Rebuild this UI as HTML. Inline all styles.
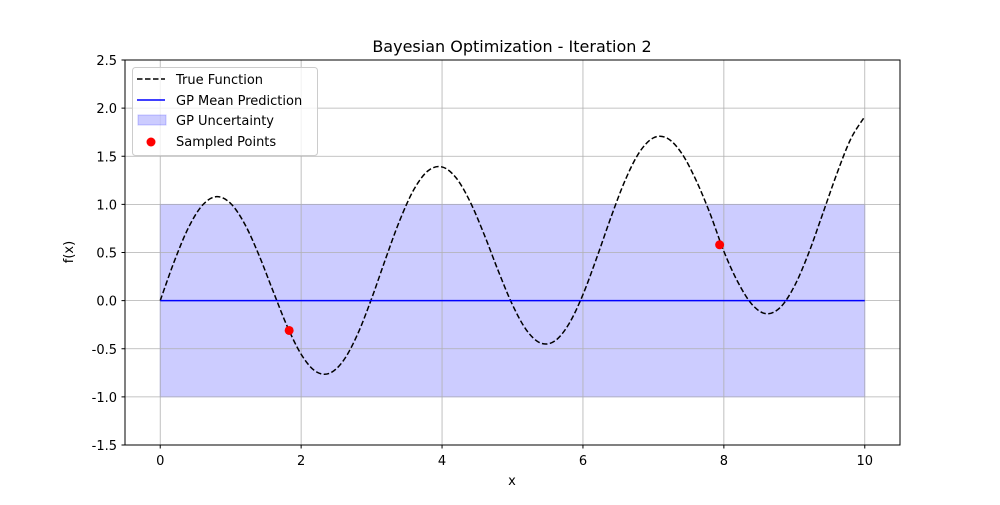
<!DOCTYPE html>
<html><head><meta charset="utf-8"><style>
body{margin:0;background:#fff;}
svg text{font-family:"DejaVu Sans","Liberation Sans",sans-serif;}
</style></head><body>
<svg id="chart" width="1000" height="500" xmlns="http://www.w3.org/2000/svg">
<rect width="1000" height="500" fill="#fff"/>
<g id="plot"></g>
<g id="grid"></g>
<g id="plot2"></g>
<rect x="125" y="60" width="775" height="385" fill="none" stroke="#000" stroke-width="1"/>
<g id="ticks"></g>
<text x="512" y="52" text-anchor="middle" font-size="16">Bayesian Optimization - Iteration 2</text>
<text x="512" y="485" text-anchor="middle" font-size="13">x</text>
<text x="73" y="252" text-anchor="middle" font-size="13" transform="rotate(-90 73 252)">f(x)</text>
<g>
<rect x="132.5" y="67.5" width="185" height="88" rx="3" fill="#fff" fill-opacity="0.8" stroke="#ccc"/>
<line x1="137" y1="79" x2="165" y2="79" stroke="#000" stroke-width="1.5" stroke-dasharray="5.5,2.5"/>
<text x="176" y="84" font-size="13">True Function</text>
<line x1="137" y1="100" x2="165" y2="100" stroke="#0000ff" stroke-width="1.5"/>
<text x="176" y="105" font-size="13">GP Mean Prediction</text>
<rect x="138" y="115" width="28" height="10" fill="#0000ff" fill-opacity="0.2" stroke="#0000ff" stroke-opacity="0.2"/>
<text x="176" y="125" font-size="13">GP Uncertainty</text>
<circle cx="151" cy="142" r="4.5" fill="red"/>
<text x="176" y="146" font-size="13">Sampled Points</text>
</g>
</svg>
<script>
const trueX=[0,0.2,0.4,0.6,0.8,1.0,1.2,1.4,1.6,1.8,2.0,2.2,2.4,2.6,2.8,3.0,3.2,3.4,3.6,3.8,4.0,4.2,4.4,4.6,4.8,5.0,5.2,5.4,5.6,5.8,6.0,6.2,6.4,6.6,6.8,7.0,7.2,7.4,7.6,7.8,8.0,8.2,8.4,8.6,8.8,9.0,9.2,9.4,9.6,9.8,10.0];
const trueY=[0,0.409,0.757,0.992,1.080,1.009,0.795,0.475,0.102,-0.263,-0.557,-0.732,-0.756,-0.623,-0.351,0.021,0.437,0.834,1.154,1.348,1.389,1.275,1.025,0.683,0.305,-0.044,-0.308,-0.441,-0.420,-0.243,0.063,0.454,0.871,1.252,1.540,1.691,1.686,1.532,1.259,0.912,0.512,0.191,-0.040,-0.136,-0.071,0.149,0.487,0.896,1.311,1.678,1.913];
const meanX=[0,10];
const meanY=[0,0];
const upperY=[1,1];
const lowerY=[-1,-1];
const sampleX=[1.83,7.94];
const sampleY=[-0.31,0.58];
const xTicks=[0,2,4,6,8,10];
const yTicks=[-1.5,-1.0,-0.5,0.0,0.5,1.0,1.5,2.0,2.5];

const X=v=>125+(v+0.5)/11*775;
const Y=v=>445-(v+1.5)/4*385;
const NS="http://www.w3.org/2000/svg";
function mk(tag,attrs,parent){const e=document.createElementNS(NS,tag);for(const k in attrs)e.setAttribute(k,attrs[k]);parent.appendChild(e);return e;}
const grid=document.getElementById('grid'),plot=document.getElementById('plot'),plot2=document.getElementById('plot2'),ticks=document.getElementById('ticks');
xTicks.forEach(t=>{
 const g=mk('line',{x1:X(t),x2:X(t),y1:60,y2:445,stroke:'#b0b0b0','stroke-width':0.8},grid);
 
 
 const tk=mk('line',{x1:X(t),x2:X(t),y1:445,y2:448.5,stroke:'#000'},ticks);
 
 
 const tx=mk('text',{x:X(t),y:465,'text-anchor':'middle','font-size':13},ticks);
 tx.textContent=String(t);
 
 
});
yTicks.forEach(t=>{
 const g=mk('line',{x1:125,x2:900,y1:Y(t),y2:Y(t),stroke:'#b0b0b0','stroke-width':0.8},grid);
 
 
 const tk=mk('line',{x1:121.5,x2:125,y1:Y(t),y2:Y(t),stroke:'#000'},ticks);
 
 
 const tx=mk('text',{x:117,y:Y(t)+5,'text-anchor':'end','font-size':13},ticks);
 tx.textContent=t.toFixed(1);
 
 
});
let band='';
meanX.forEach((x,i)=>band+=(i?'L':'M')+X(x)+','+Y(upperY[i]));
for(let i=meanX.length-1;i>=0;i--)band+='L'+X(meanX[i])+','+Y(lowerY[i]);
const b=mk('path',{d:band+'Z',fill:'#0000ff','fill-opacity':0.2,stroke:'#0000ff','stroke-opacity':0.2},plot);


const P=trueX.map((x,i)=>[X(x),Y(trueY[i])]);
let d='M'+P[0][0]+','+P[0][1];
for(let i=0;i<P.length-1;i++){
 const p0=P[Math.max(i-1,0)],p1=P[i],p2=P[i+1],p3=P[Math.min(i+2,P.length-1)];
 d+='C'+(p1[0]+(p2[0]-p0[0])/6)+','+(p1[1]+(p2[1]-p0[1])/6)+' '+(p2[0]-(p3[0]-p1[0])/6)+','+(p2[1]-(p3[1]-p1[1])/6)+' '+p2[0]+','+p2[1];
}
const tl=mk('path',{d:d,fill:'none',stroke:'#000','stroke-width':1.5,'stroke-dasharray':'5.5,2.5'},plot2);


const ml=mk('polyline',{points:meanX.map((x,i)=>X(x)+','+Y(meanY[i])).join(' '),fill:'none',stroke:'#0000ff','stroke-width':1.5},plot2);


sampleX.forEach((x,i)=>{
 const c=mk('circle',{cx:X(x),cy:Y(sampleY[i]),r:4.5,fill:'red'},plot2);
 
 
});
</script>
</body></html>
